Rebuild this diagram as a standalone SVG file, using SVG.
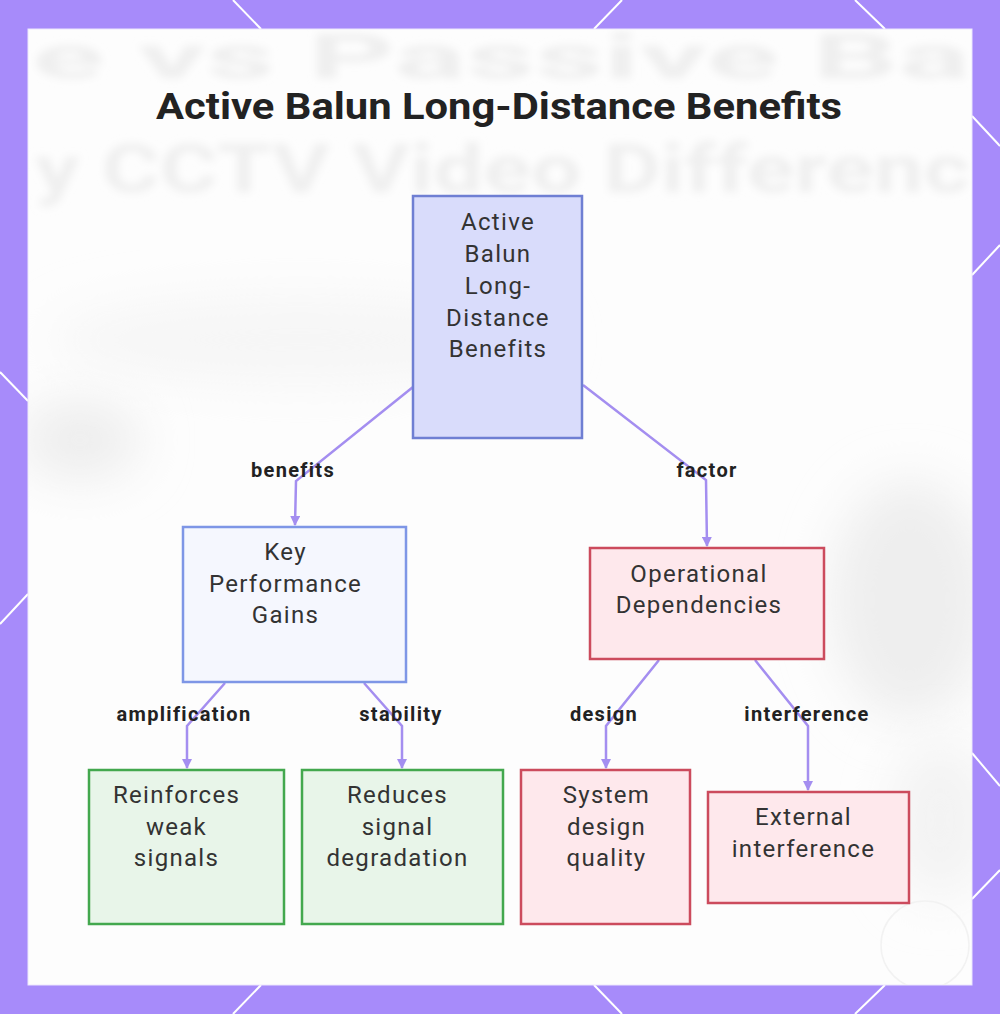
<svg xmlns="http://www.w3.org/2000/svg" width="1000" height="1014" viewBox="0 0 1000 1014">
<style>
.hex{stroke:#ffffff;stroke-width:2;fill:none}
.bgtxt{font-family:Roboto,"Liberation Sans",sans-serif;font-weight:700;fill:#efefef}
.title{font-family:Roboto,"Liberation Sans",sans-serif;font-weight:700;font-size:37px;fill:#222222;text-anchor:middle}
.ntxt{font-family:Roboto,"Liberation Sans",sans-serif;font-size:24px;letter-spacing:1.3px;fill:#333333;text-anchor:middle}
.lbl{font-family:Roboto,"Liberation Sans",sans-serif;font-weight:700;font-size:20px;letter-spacing:1.3px;fill:#222222;text-anchor:middle}
.edge{fill:none;stroke:#a48ef0;stroke-width:2.5;marker-end:url(#arr)}
.blue{fill:#d9dcfb;stroke:#6f7fd3;stroke-width:2.5}
.lblue{fill:#f5f7fe;stroke:#7e96e6;stroke-width:2.5}
.green{fill:#e8f5e9;stroke:#43a84e;stroke-width:2.5}
.red{fill:#fee8ec;stroke:#cc4b5d;stroke-width:2.5}
</style>
<defs>
<marker id="arr" viewBox="0 0 10 10" refX="9" refY="5" markerWidth="4" markerHeight="4" orient="auto">
<path d="M0,0 L10,5 L0,10 z" fill="#a48ef0"/>
</marker>
<filter id="blur" x="-20%" y="-50%" width="140%" height="200%"><feGaussianBlur stdDeviation="4"/></filter>
<filter id="blur2" x="-50%" y="-50%" width="200%" height="200%"><feGaussianBlur stdDeviation="25"/></filter>
<clipPath id="panel"><rect x="28" y="29" width="944" height="956"/></clipPath>
</defs>
<rect x="0" y="0" width="1000" height="1014" fill="#a78bfa"/>
<g id="border-lines">
<line class="hex" x1="233" y1="0" x2="261" y2="29"/>
<line class="hex" x1="622" y1="0" x2="594" y2="29"/>
<line class="hex" x1="855" y1="0" x2="885" y2="29"/>
<line class="hex" x1="261" y1="985" x2="233" y2="1014"/>
<line class="hex" x1="594" y1="985" x2="622" y2="1014"/>
<line class="hex" x1="885" y1="985" x2="855" y2="1014"/>
<line class="hex" x1="0" y1="372" x2="28" y2="401"/>
<line class="hex" x1="0" y1="624" x2="28" y2="594"/>
<line class="hex" x1="972" y1="116" x2="1000" y2="146"/>
<line class="hex" x1="972" y1="275" x2="1000" y2="245"/>
<line class="hex" x1="972" y1="753" x2="1000" y2="786"/>
<line class="hex" x1="972" y1="899" x2="1000" y2="870"/>
</g>
<rect x="28" y="29" width="944" height="956" fill="#fdfdfd" stroke="#ece6fd" stroke-width="1"/>
<g id="background" clip-path="url(#panel)">
<ellipse cx="80" cy="440" rx="60" ry="40" fill="#ededed" filter="url(#blur2)"/>
<ellipse cx="300" cy="340" rx="250" ry="45" fill="#f6f6f6" filter="url(#blur2)"/>
<ellipse cx="910" cy="600" rx="80" ry="120" fill="#eeeeee" filter="url(#blur2)"/>
<ellipse cx="940" cy="820" rx="50" ry="80" fill="#f3f3f3" filter="url(#blur2)"/>
<g filter="url(#blur)">
<text class="bgtxt" x="32" y="78" font-size="62" textLength="938" lengthAdjust="spacingAndGlyphs">e vs Passive Ba</text>
<text class="bgtxt" x="35" y="192" font-size="66" textLength="935" lengthAdjust="spacingAndGlyphs">y CCTV Video Differenc</text>
</g>
<circle cx="925" cy="945" r="44" fill="none" stroke="#f2f2f2" stroke-width="1.5"/>
</g>
<text class="title" x="499" y="119" textLength="686" lengthAdjust="spacingAndGlyphs">Active Balun Long-Distance Benefits</text>
<g id="connectors">
<path class="edge" d="M413,387 L296,481 L295,525"/>
<path class="edge" d="M583,385 L706,480 L707,546"/>
<path class="edge" d="M225,683 L187,726 L187,768"/>
<path class="edge" d="M364,683 L402,726 L402,768"/>
<path class="edge" d="M659,660 L606,726 L606,768"/>
<path class="edge" d="M755,660 L808,726 L808,790"/>
<text class="lbl" x="293" y="477">benefits</text>
<text class="lbl" x="707" y="477">factor</text>
<text class="lbl" x="184" y="721">amplification</text>
<text class="lbl" x="401" y="721">stability</text>
<text class="lbl" x="604" y="721">design</text>
<text class="lbl" x="807" y="721">interference</text>
</g>
<g id="node-root">
<rect class="blue" x="413" y="196" width="169" height="242"/>
<text class="ntxt" x="498" y="230">Active</text>
<text class="ntxt" x="498" y="262">Balun</text>
<text class="ntxt" x="498" y="294">Long-</text>
<text class="ntxt" x="498" y="326">Distance</text>
<text class="ntxt" x="498" y="357">Benefits</text>
</g>
<g id="node-key">
<rect class="lblue" x="183" y="527" width="223" height="155"/>
<text class="ntxt" x="285.5" y="560">Key</text>
<text class="ntxt" x="285.5" y="592">Performance</text>
<text class="ntxt" x="285.5" y="623">Gains</text>
</g>
<g id="node-ops">
<rect class="red" x="590" y="548" width="234" height="111"/>
<text class="ntxt" x="699" y="582">Operational</text>
<text class="ntxt" x="699" y="613">Dependencies</text>
</g>
<g id="node-reinforces">
<rect class="green" x="89" y="770" width="195" height="154"/>
<text class="ntxt" x="176.5" y="803">Reinforces</text>
<text class="ntxt" x="176.5" y="835">weak</text>
<text class="ntxt" x="176.5" y="866">signals</text>
</g>
<g id="node-reduces">
<rect class="green" x="302" y="770" width="201" height="154"/>
<text class="ntxt" x="397.5" y="803">Reduces</text>
<text class="ntxt" x="397.5" y="835">signal</text>
<text class="ntxt" x="397.5" y="866">degradation</text>
</g>
<g id="node-system">
<rect class="red" x="521" y="770" width="169" height="154"/>
<text class="ntxt" x="606.5" y="803">System</text>
<text class="ntxt" x="606.5" y="835">design</text>
<text class="ntxt" x="606.5" y="866">quality</text>
</g>
<g id="node-external">
<rect class="red" x="708" y="792" width="201" height="111"/>
<text class="ntxt" x="803.5" y="825">External</text>
<text class="ntxt" x="803.5" y="857">interference</text>
</g>
</svg>
